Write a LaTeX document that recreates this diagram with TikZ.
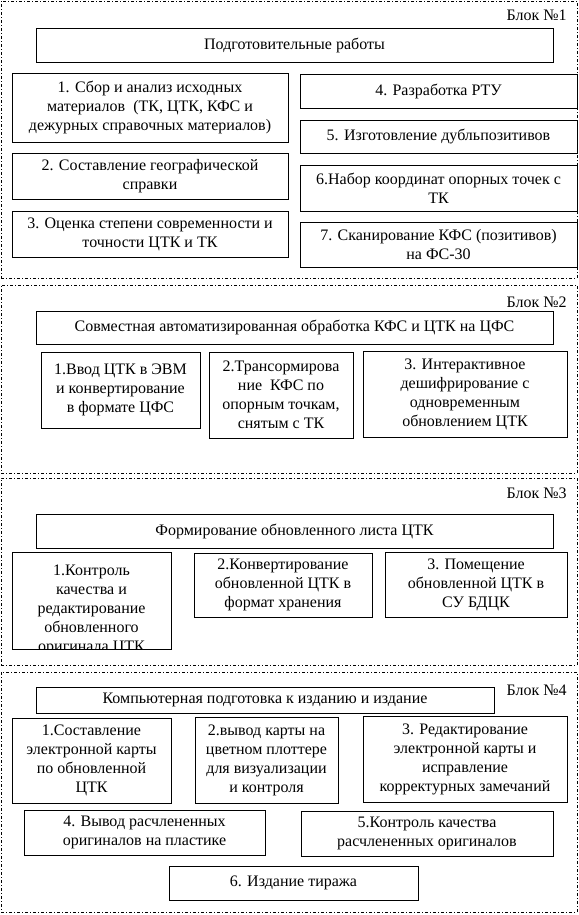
\documentclass[tikz,border=0pt]{standalone}
\usepackage{fontspec}
\setmainfont{Liberation Serif}
\tikzset{
  blk/.style={draw, line width=0.75pt, dash pattern=on 2.25pt off 1.5pt on 0.75pt off 1.5pt},
  box/.style={draw, line width=0.75pt, inner sep=0pt, align=center, fill=white,
    font=\fontsize{12}{14.25}\selectfont},
  txt/.style={inner sep=0pt, align=center, font=\fontsize{12}{14.25}\selectfont},
  lbl/.style={inner sep=0pt, anchor=east, font=\fontsize{12}{14.25}\selectfont}
}
% \bx{name}{x1}{y1}{x2}{y2}{text}: box with corners (x1,y1) and (x2,y2) in px
\newcommand\bx[6]{\node[box, minimum width={(#4-#2)*0.75pt}, minimum height={(#5-#3)*0.75pt}] (#1) at ({(#2+#4)/2},{(#3+#5)/2}) {#6};}
\newcommand\frm[5]{\node[blk, inner sep=0pt, minimum width={(#4-#2)*0.75pt}, minimum height={(#5-#3)*0.75pt}] (#1) at ({(#2+#4)/2},{(#3+#5)/2}) {};}
\begin{document}
\begin{tikzpicture}[x=0.75pt,y=-0.75pt]
\useasboundingbox (0,0) rectangle (579,915);
% block frames
\frm{blk1}{1}{1}{577}{278}
\frm{blk2}{1}{285}{577}{473}
\frm{blk3}{1}{478}{577}{665}
\frm{blk4}{1}{672}{577}{912}
% labels
\node[lbl] (l1) at (567,15) {Блок №1};
\node[lbl] (l2) at (567,302) {Блок №2};
\node[lbl] (l3) at (567,493) {Блок №3};
\node[lbl] (l4) at (567,690) {Блок №4};
% block 1
\bx{t1}{36}{28}{553}{62}{Подготовительные работы}
\bx{b11}{12}{73}{288}{142}{1. Сбор и анализ исходных\\материалов~ (ТК, ЦТК, КФС и\\дежурных справочных материалов)}
\bx{b12}{12}{153}{288}{199}{2. Составление географической\\справки}
\bx{b13}{12}{211}{288}{257}{3. Оценка степени современности и\\точности ЦТК и ТК}
\bx{b14}{300}{74}{577}{108}{4. Разработка РТУ}
\bx{b15}{300}{120}{577}{153}{5. Изготовление дубльпозитивов}
\bx{b16}{300}{165}{577}{211}{6.Набор координат опорных точек с\\ТК}
\bx{b17}{300}{222}{577}{267}{7. Сканирование КФС (позитивов)\\на ФС-30}
% block 2
\bx{t2}{36}{311}{553}{344}{Совместная автоматизированная обработка КФС и ЦТК на ЦФС}
\bx{b21}{41}{352}{200}{428}{1.Ввод ЦТК в ЭВМ\\и конвертирование\\в формате ЦФС}
\bx{b22}{209}{352}{353}{438}{2.Трансормирова\\ние~ КФС по\\опорным точкам,\\снятым с ТК}
\bx{b23}{363}{351}{567}{437}{3. Интерактивное\\дешифрирование с\\одновременным\\обновлением ЦТК}
% block 3
\bx{t3}{36}{514}{553}{548}{Формирование обновленного листа ЦТК}
\bx{b31}{12}{552}{171}{649}{}
\begin{scope}
\clip (12,552) rectangle (171,649);
\node[txt] (b31t) at (91.5,610) {1.Контроль\\качества и\\редактирование\\обновленного\\оригинала ЦТК};
\end{scope}
\bx{b32}{194}{553}{372}{617}{2.Конвертирование\\обновленной ЦТК в\\формат хранения}
\bx{b33}{385}{552}{567}{617}{3. Помещение\\обновленной ЦТК в\\СУ БДЦК}
% block 4
\bx{t4}{36}{687}{494}{713}{Компьютерная подготовка к изданию и издание}
\bx{b41}{12}{718}{171}{803}{1.Составление\\электронной карты\\по обновленной\\ЦТК}
\bx{b42}{195}{717}{338}{803}{2.вывод карты на\\цветном плоттере\\для визуализации\\и контроля}
\bx{b43}{363}{716}{567}{802}{3. Редактирование\\электронной карты и\\исправление\\корректурных замечаний}
\bx{b44}{24}{810}{265}{855}{4. Вывод расчлененных\\оригиналов на пластике}
\bx{b45}{301}{811}{553}{856}{5.Контроль качества\\расчлененных оригиналов}
\bx{b46}{169}{866}{418}{900}{6. Издание тиража}
\end{tikzpicture}
\end{document}
